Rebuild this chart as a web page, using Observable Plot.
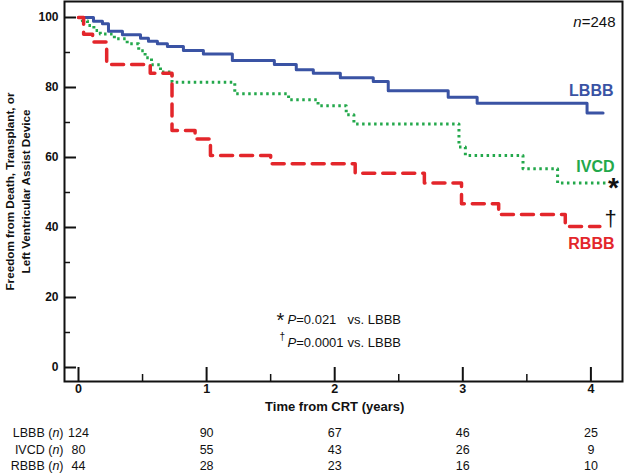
<!DOCTYPE html>
<html>
<head>
<meta charset="utf-8">
<script src="https://cdn.jsdelivr.net/npm/d3@7"></script>
<script src="https://cdn.jsdelivr.net/npm/@observablehq/plot@0.6"></script>
<style>
  html, body { margin: 0; padding: 0; background: #fff; }
  #chart svg { display: block; }
</style>
</head>
<body>
<div id="chart"></div>
<script>
// ---------------- DATA ----------------
const groups = ["LBBB", "IVCD", "RBBB"];

// Kaplan–Meier step points (time in years, freedom %)
const lbbbTime = [0, 0.117, 0.187, 0.234, 0.343, 0.484, 0.546, 0.616, 0.694, 0.819, 0.975, 1.201, 1.529, 1.700, 1.833, 2.044, 2.301, 2.418, 2.886, 3.112, 3.970, 4.095];
const lbbbSurv = [100, 98.9, 98.2, 96.1, 95.1, 94.1, 93.2, 92.5, 91.7, 90.6, 89.6, 87.7, 86.6, 85.1, 84.1, 82.8, 81.7, 79.1, 77.2, 75.5, 72.7, 72.7];

const ivcdTime = [0, 0.03, 0.07, 0.12, 0.17, 0.28, 0.38, 0.47, 0.52, 0.57, 0.64, 0.73, 1.22, 1.64, 1.87, 2.09, 2.15, 2.97, 3.02, 3.47, 3.74, 4.13];
const ivcdSurv = [100, 99.1, 97.7, 96.3, 95.3, 93.9, 92.5, 90.5, 88.5, 86.5, 84.4, 81.5, 78.2, 76.5, 74.8, 72.2, 69.6, 63.0, 60.6, 56.8, 52.7, 52.7];

const rbbbTime = [0, 0.04, 0.11, 0.22, 0.56, 0.73, 0.91, 1.03, 1.50, 2.16, 2.70, 2.99, 3.28, 3.80, 4.07];
const rbbbSurv = [100, 95.2, 93.0, 86.6, 84.1, 67.7, 65.3, 60.6, 58.2, 55.5, 52.7, 46.8, 43.7, 40.3, 40.3];

// numbers at risk
const riskTimes = [0, 1, 2, 3, 4];
const lbbbAtRisk = [124, 90, 67, 46, 25];
const ivcdAtRisk = [80, 55, 43, 26, 9];
const rbbbAtRisk = [44, 28, 23, 16, 10];

// tick labels
const yTicks = [0, 20, 40, 60, 80, 100];
const yMinorTicks = [10, 30, 50, 70, 90];
const xTicks = [0, 1, 2, 3, 4];
const xMinorTicks = [0.5, 1.5, 2.5, 3.5];

const xTitle = "Time from CRT (years)";
const yTitleLines = ["Freedom from Death, Transplant, or", "Left Ventricular Assist Device"];
const nText = "_n_=248";
const pTexts = ["_P_=0.021", "_P_=0.0001"];
const pSymbols = ["*", "\u2020"];
const vsText = "vs. LBBB";

// ---------------- BUILD ----------------
const series = [
  {name: "LBBB", time: lbbbTime, surv: lbbbSurv, risk: lbbbAtRisk},
  {name: "IVCD", time: ivcdTime, surv: ivcdSurv, risk: ivcdAtRisk},
  {name: "RBBB", time: rbbbTime, surv: rbbbSurv, risk: rbbbAtRisk}
];
const curve = s => s.time.map((t, i) => ({t, v: s.surv[i], g: s.name}));
const [lb, iv, rb] = series.map(curve);

const colors = {LBBB: "#3a53a4", IVCD: "#23a84b", RBBB: "#e3262b"};

const W = 625, H = 475;
const mL = 64, mR = 3, mT = 1, mB = 94;
const plotW = W - mL - mR, plotH = H - mT - mB;
const sans = "'Liberation Sans', Arial, sans-serif";

const rowDy = [55, 72, 88.5];
const riskMarks = series.flatMap((s, k) => [
  Plot.text([s.name + " (_n_)"], {frameAnchor: "bottom-left", dx: -1, dy: rowDy[k], textAnchor: "end", fontSize: 12.5, fill: "#111"}),
  Plot.text(s.risk, {x: (d, i) => riskTimes[i], text: d => String(d), frameAnchor: "bottom", dy: rowDy[k], fontSize: 12.5, fill: "#111"})
]);

const titleDx = [-54.5, -38.5];
const yTitleMarks = yTitleLines.map((line, k) =>
  Plot.text([line], {frameAnchor: "left", dx: titleDx[k], rotate: -90, textAnchor: "middle", fontWeight: "bold", fontSize: 11.7, fill: "#111"})
);

const last = a => a[a.length - 1];

const chart = Plot.plot({
  width: W, height: H,
  marginLeft: mL, marginRight: mR, marginTop: mT, marginBottom: mB,
  x: {domain: [-0.1093, 4.2467], axis: null},
  y: {domain: [-4, 104.57], axis: null},
  style: {fontFamily: sans, background: "#fff", overflow: "visible"},
  marks: [
    // ticks (inward)
    Plot.tickY(yTicks, {y: d => d, insetRight: plotW - 12, stroke: "#111", strokeWidth: 2}),
    Plot.tickY(yMinorTicks, {y: d => d, insetRight: plotW - 6, stroke: "#111", strokeWidth: 1.5}),
    Plot.tickX(xTicks, {x: d => d, insetTop: plotH - 14, stroke: "#111", strokeWidth: 2}),
    Plot.tickX(xMinorTicks, {x: d => d, insetTop: plotH - 7, stroke: "#111", strokeWidth: 1.5}),
    // curves
    Plot.line(iv, {x: "t", y: "v", curve: "step-after", stroke: colors.IVCD, strokeWidth: 3, strokeDasharray: "2.5,3.5", strokeLinecap: "butt"}),
    Plot.line(lb, {x: "t", y: "v", curve: "step-after", stroke: colors.LBBB, strokeWidth: 3}),
    Plot.line(rb, {x: "t", y: "v", curve: "step-after", stroke: colors.RBBB, strokeWidth: 3.5, strokeDasharray: "12,8"}),
    Plot.frame({stroke: "#111", strokeWidth: 2}),
    // tick labels
    Plot.text(yTicks, {y: d => d, text: d => String(d), frameAnchor: "left", dx: -6, textAnchor: "end", fontWeight: "bold", fontSize: 12, fill: "#111"}),
    Plot.text(xTicks, {x: d => d, text: d => String(d), frameAnchor: "bottom", dy: 11, fontWeight: "bold", fontSize: 12.5, fill: "#111"}),
    Plot.text([xTitle], {x: 2, frameAnchor: "bottom", dy: 29, fontWeight: "bold", fontSize: 13, fill: "#111"}),
    ...yTitleMarks,
    // n
    Plot.text([nText], {frameAnchor: "top-right", dx: -7, dy: 15, textAnchor: "end", fontSize: 15, fill: "#111"}),
    // curve labels
    Plot.text(["LBBB"], {frameAnchor: "right", y: last(lbbbSurv), dx: -9, dy: -22, textAnchor: "end", fontSize: 16, fontWeight: "bold", fill: colors.LBBB}),
    Plot.text(["IVCD"], {frameAnchor: "right", y: last(ivcdSurv), dx: -8, dy: -16, textAnchor: "end", fontSize: 16, fontWeight: "bold", fill: colors.IVCD}),
    Plot.text(["RBBB"], {frameAnchor: "right", y: last(rbbbSurv), dx: -8, dy: 17, textAnchor: "end", fontSize: 16, fontWeight: "bold", fill: colors.RBBB}),
    Plot.text([pSymbols[0]], {frameAnchor: "right", y: last(ivcdSurv), dx: -9, dy: 4.5, textAnchor: "middle", fontSize: 28, fontWeight: "bold", fill: "#111"}),
    Plot.text([pSymbols[1]], {frameAnchor: "right", y: last(rbbbSurv), dx: -12, dy: -7, textAnchor: "middle", fontSize: 22, fill: "#111"}),
    // p-values
    Plot.text([pSymbols[0]], {x: 1.577, y: 13.7, dy: 1, textAnchor: "middle", fontSize: 20, fill: "#111"}),
    Plot.text([pSymbols[1]], {x: 1.59, y: 7.1, dy: -6, textAnchor: "middle", fontSize: 10, fill: "#111"}),
    Plot.text([pTexts[0]], {x: 1.632, y: 13.7, textAnchor: "start", fontSize: 13, fill: "#111"}),
    Plot.text([pTexts[1]], {x: 1.632, y: 7.1, textAnchor: "start", fontSize: 13, fill: "#111"}),
    Plot.text([vsText, vsText], {x: 2.1, y: (d, i) => [13.7, 7.1][i], textAnchor: "start", fontSize: 13, fill: "#111"}),
    // number at risk table
    ...riskMarks
  ]
});

// italic segments marked with underscores
chart.querySelectorAll("text").forEach(el => {
  const targets = el.querySelectorAll("tspan").length ? Array.from(el.querySelectorAll("tspan")) : [el];
  targets.forEach(t => {
    const s = t.textContent;
    if (!s.includes("_")) return;
    t.textContent = "";
    s.split("_").forEach((part, i) => {
      if (!part) return;
      const ts = document.createElementNS("http://www.w3.org/2000/svg", "tspan");
      ts.textContent = part;
      if (i % 2 === 1) ts.setAttribute("font-style", "italic");
      t.appendChild(ts);
    });
  });
});

document.getElementById("chart").appendChild(chart);
</script>
</body>
</html>
